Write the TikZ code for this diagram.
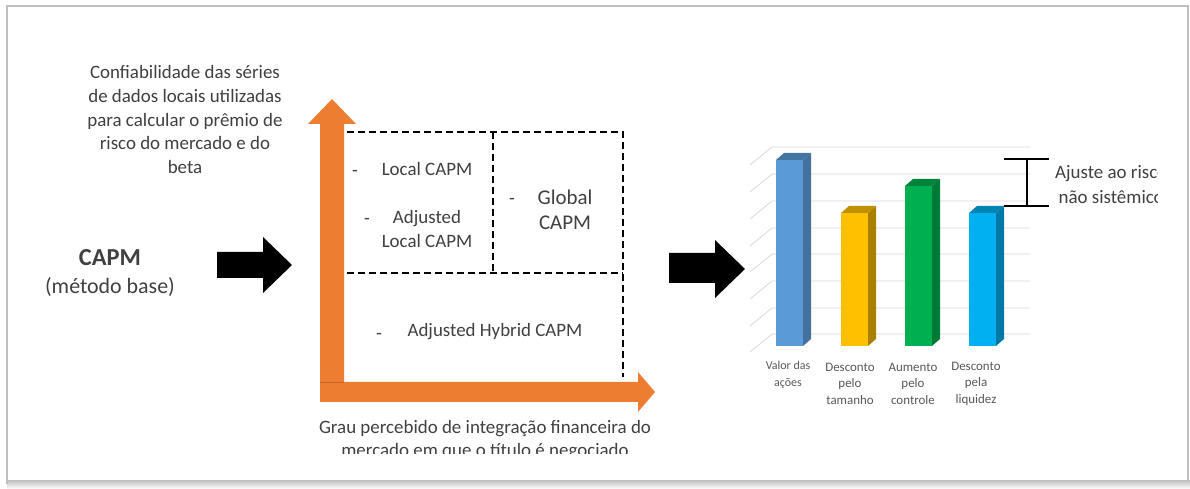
\documentclass[tikz,border=0pt]{standalone}
\usepackage{fontspec}
\setmainfont{Carlito}
\definecolor{axisorange}{HTML}{ED7D31}
\definecolor{txtgray}{HTML}{404040}
\definecolor{lblgray}{HTML}{595959}
\definecolor{gridgray}{HTML}{D9D9D9}
\definecolor{framegray}{HTML}{BFBFBF}
\definecolor{barblue}{HTML}{5B9BD5}
\definecolor{barblueside}{HTML}{41719C}
\definecolor{baryellow}{HTML}{FFC000}
\definecolor{baryellowside}{HTML}{A98000}
\definecolor{bargreen}{HTML}{00B050}
\definecolor{bargreenside}{HTML}{007A37}
\definecolor{barcyan}{HTML}{00B0F0}
\definecolor{barcyanside}{HTML}{0079A6}
\begin{document}
\begin{tikzpicture}[x=1bp, y=-1bp,
    txt/.style={text=txtgray, font=\fontsize{19}{23.8}\selectfont, align=center, inner sep=0pt},
    bigtxt/.style={txt, font=\fontsize{21}{25}\selectfont},
    dashmark/.style={txt, text height=20bp, text depth=4bp},
    catlbl/.style={text=lblgray, font=\fontsize{13}{16.5}\selectfont, align=center, inner sep=0pt},
    quad/.style={draw=black, line width=1.4bp, dash pattern=on 7bp off 4bp},
    grid/.style={draw=gridgray, line width=0.8bp},
    blockarr/.style={fill=black}]
    \useasboundingbox (0,0) rectangle (1190,489);
    \fill[white] (0,0) rectangle (1190,489);
    \shade[top color=framegray, bottom color=white] (7,480) rectangle (1190,489);
    \draw[framegray, line width=1.5bp] (7,484) -- (7,6) -- (1188,6) -- (1188,480);

    \node[txt] (reliab) at (185,119.5) {Confiabilidade das séries\\de dados locais utilizadas\\para calcular o prêmio de\\risco do mercado e do\\beta};
    \node[txt, font=\bfseries\fontsize{24.5}{28}\selectfont] (capm) at (110,258) {CAPM};
    \node[txt, font=\fontsize{22}{26}\selectfont] (base) at (110,287) {(método base)};

    \fill[blockarr] (217,252) -- (263,252) -- (263,237) -- (292,265) -- (263,293) -- (263,278) -- (217,278) -- cycle;

    \fill[axisorange] (320,402) -- (320,124) -- (308,124) -- (332,99) -- (356,124) -- (344,124) -- (344,382)
        -- (638,382) -- (638,372) -- (655,392) -- (638,412) -- (638,402) -- cycle;
    \draw[axisorange!85!black, line width=0.6bp] (320,382) -- (344,382);

    \draw[quad] (347,132) -- (623,132) -- (623,377);
    \draw[quad] (347,273) -- (623,273);
    \draw[quad] (493,132) -- (493,273);

    \node[dashmark] (dashone) at (355,169) {-};
    \node[txt] (localcapm) at (427,169) {Local CAPM};
    \node[dashmark] (dashtwo) at (367,217) {-};
    \node[txt] (adjlocal) at (427,229) {Adjusted\\Local CAPM};
    \node[dashmark] (dashthree) at (512,197) {-};
    \node[bigtxt] (globalcapm) at (565,209.5) {Global\\CAPM};
    \node[dashmark] (dashfour) at (379,332) {-};
    \node[txt] (hybrid) at (495,332) {Adjusted Hybrid CAPM};

    \begin{scope}
        \clip (0,0) rectangle (1190,453);
        \node[txt] (integr) at (485,440) {Grau percebido de integração financeira do\\mercado em que o título é negociado};
    \end{scope}

    \fill[blockarr] (669,253) -- (715,253) -- (715,240) -- (745,269) -- (715,298) -- (715,283) -- (669,283) -- cycle;

    \foreach \gy in {147,174,201,228,254,281,308,334}
        \draw[grid] (750,\gy+18) -- (772,\gy) -- (1030,\gy);

    \foreach \bx/\by/\fc/\sc in {776/160/barblue/barblueside, 841/213/baryellow/baryellowside,
        905/186/bargreen/bargreenside, 969/213/barcyan/barcyanside} {
        \fill[\fc] (\bx,\by) rectangle (\bx+27,346);
        \fill[\sc] (\bx+27,\by) -- (\bx+35,\by-7) -- (\bx+35,339) -- (\bx+27,346) -- cycle;
        \fill[\fc!75!black] (\bx,\by) -- (\bx+8,\by-7) -- (\bx+35,\by-7) -- (\bx+27,\by) -- cycle;
    }

    \node[catlbl, font=\fontsize{12}{16.5}\selectfont] (valor) at (788,375) {Valor das\\ações};
    \node[catlbl] (tamanho) at (850,383.5) {Desconto\\pelo\\tamanho};
    \node[catlbl] (controle) at (913,383.5) {Aumento\\pelo\\controle};
    \node[catlbl] (liquidez) at (976,383.5) {Desconto\\pela\\liquidez};

    \coordinate (errtop) at (1027,159);
    \coordinate (errbot) at (1027,206);
    \draw[line width=1.6bp] (errtop) -- (errbot);
    \draw[line width=1.6bp] ([xshift=-23bp]errtop) -- ([xshift=22bp]errtop);
    \draw[line width=1.6bp] ([xshift=-23bp]errbot) -- ([xshift=22bp]errbot);

    \begin{scope}
        \clip (0,0) rectangle (1157,489);
        \node[txt, font=\fontsize{19}{25}\selectfont, anchor=west] (ajuste) at (1055,184.5) {Ajuste ao risco\\não sistêmico};
    \end{scope}
\end{tikzpicture}
\end{document}
